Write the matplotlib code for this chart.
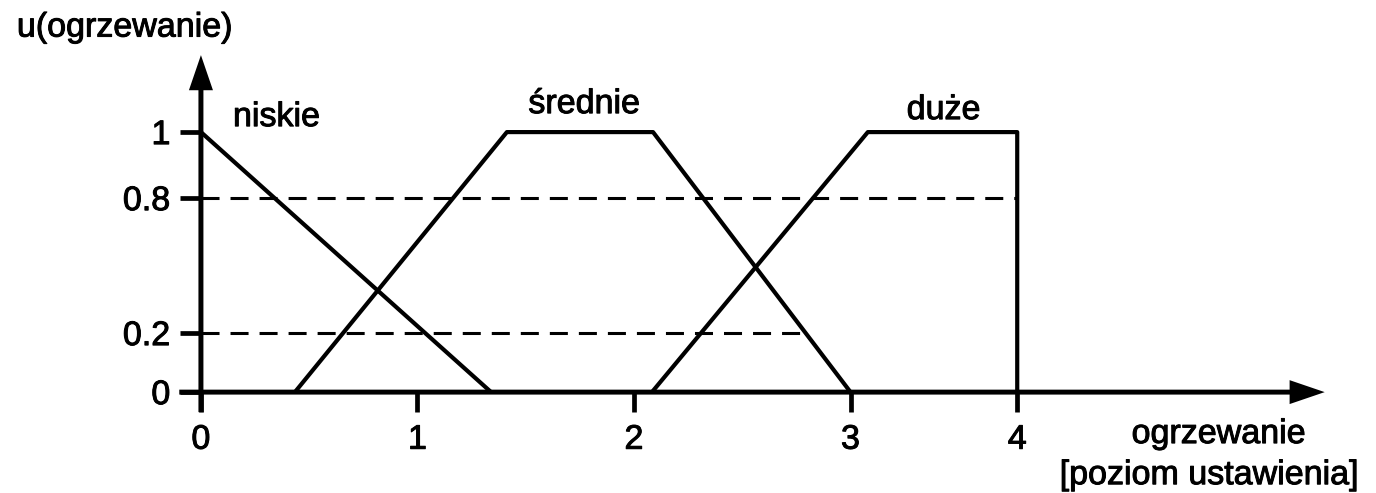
import numpy as np
import matplotlib.pyplot as plt
import matplotlib.patheffects as pe

plt.rcParams['font.family'] = ['Liberation Sans', 'DejaVu Sans']

# funkcje przynależności (współrzędne tak jak na rysunku)
niskie_x = [0, 1.34]
niskie_y = [1, 0]
srednie_x = [0.434, 1.413, 2.088, 3.0]
srednie_y = [0, 1, 1, 0]
duze_x = [2.083, 3.08, 3.77, 3.77]
duze_y = [0, 1, 1, 0]

# osie - położenie podziałek i ich opisy
xtick_pos = [0, 1, 2, 3, 3.77]
xtick_labels = ['0', '1', '2', '3', '4']
ytick_pos = [0, 0.227, 0.746, 1]
ytick_labels = ['0', '0.2', '0.8', '1']

# poziomy odcięcia (linie przerywane)
level_08 = 0.746
level_02 = 0.227

fig = plt.figure(figsize=(13.76, 4.93), dpi=100)
ax = fig.add_axes([0, 0, 1, 1])
ax.set_xlim(-0.928, 5.427)
ax.set_ylim(-0.388, 1.508)

for s in ['top', 'right', 'left', 'bottom']:
    ax.spines[s].set_visible(False)
ax.spines['left'].set_position(('data', 0))
ax.spines['bottom'].set_position(('data', 0))

# osie ze strzałkami
ax.arrow(-0.1, 0, 5.29, 0, width=0.019, head_width=0.092, head_length=0.162,
         length_includes_head=True, fc='black', ec='none', zorder=3)
ax.arrow(0, -0.077, 0, 1.373, width=0.023, head_width=0.111, head_length=0.135,
         length_includes_head=True, fc='black', ec='none', zorder=3)

# linie przerywane
x_end_02 = np.interp(level_02, srednie_y[2:][::-1], srednie_x[2:][::-1])
ax.plot([0, duze_x[-1]], [level_08, level_08], color='black', lw=2.2,
        linestyle=(0, (5.9, 3.6)))
ax.plot([0, x_end_02], [level_02, level_02], color='black', lw=2.2,
        linestyle=(0, (5.9, 3.6)))

# funkcje
ax.plot(niskie_x, niskie_y, color='black', lw=3.0, solid_capstyle='butt')
ax.plot(srednie_x, srednie_y, color='black', lw=3.0, solid_capstyle='butt')
ax.plot(duze_x, duze_y, color='black', lw=3.0, solid_capstyle='butt')

fs = 24.5
bold = [pe.withStroke(linewidth=0.7, foreground='black')]

ax.set_xticks(xtick_pos)
ax.set_xticklabels(xtick_labels)
ax.set_yticks(ytick_pos)
ax.set_yticklabels(ytick_labels)
ax.tick_params(axis='x', direction='out', length=14.5, width=3.4, pad=9,
               labelsize=fs)
ax.tick_params(axis='y', direction='out', length=15, width=3.4, pad=7,
               labelsize=fs)
for lab in ax.get_xticklabels() + ax.get_yticklabels():
    lab.set_path_effects(bold)

ax.text(-0.85, 1.40, 'u(ogrzewanie)', fontsize=fs, va='center', ha='left',
        path_effects=bold)
ax.text(0.148, 1.023, 'niskie', fontsize=fs, va='baseline', ha='left',
        path_effects=bold)
ax.text(1.77, 1.073, 'średnie', fontsize=fs, va='baseline', ha='center',
        path_effects=bold)
ax.text(3.43, 1.05, 'duże', fontsize=fs, va='baseline', ha='center',
        path_effects=bold)
ax.text(4.70, -0.196, 'ogrzewanie', fontsize=fs, va='baseline', ha='center',
        path_effects=bold)
ax.text(4.656, -0.354, '[poziom ustawienia]', fontsize=fs, va='baseline',
        ha='center', path_effects=bold)

plt.savefig('out.png', dpi=100)
